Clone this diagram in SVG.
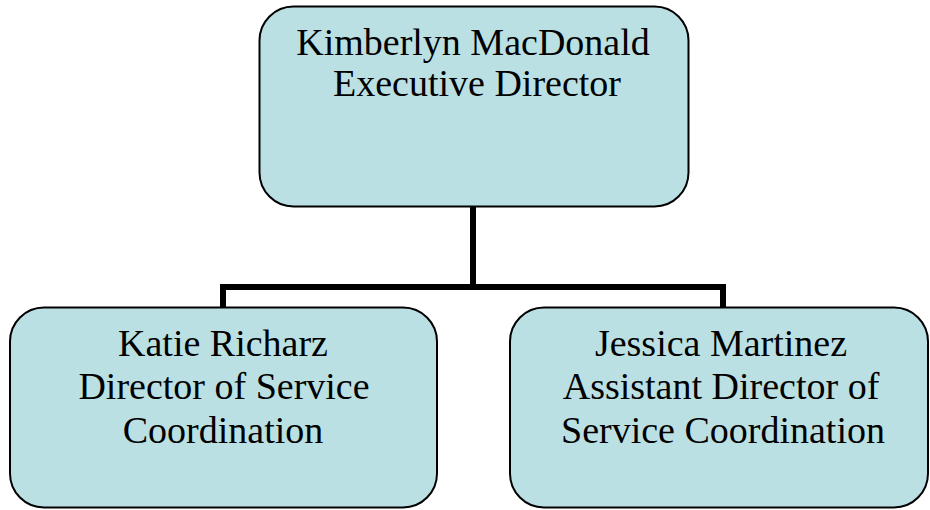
<svg xmlns="http://www.w3.org/2000/svg" width="930" height="510" viewBox="0 0 930 510">
<style>
.box{fill:#BBE0E3;stroke:#000;stroke-width:2}
.conn{fill:none;stroke:#000;stroke-width:6;stroke-linejoin:miter}
text{font-family:"Liberation Serif","Times New Roman",serif;font-size:38px;fill:#000;text-anchor:middle}
</style>
<rect width="930" height="510" fill="#fff"/>
<g id="connectors">
<path class="conn" d="M473,207 V287"/>
<path class="conn" d="M223,308 V287 H723 V308"/>
</g>
<g id="node-exec">
<rect class="box" x="259.5" y="6.5" width="429" height="200" rx="34" ry="34"/>
<text x="473" y="55">Kimberlyn MacDonald</text>
<text x="477" y="96">Executive Director</text>
</g>
<g id="node-katie">
<rect class="box" x="10" y="307.5" width="427" height="200" rx="34" ry="34"/>
<text x="223" y="356">Katie Richarz</text>
<text x="224" y="399">Director of Service</text>
<text x="223" y="443">Coordination</text>
</g>
<g id="node-jessica">
<rect class="box" x="510" y="307.5" width="418" height="200" rx="34" ry="34"/>
<text x="721" y="356">Jessica Martinez</text>
<text x="721" y="399">Assistant Director of</text>
<text x="723" y="443">Service Coordination</text>
</g>
</svg>
